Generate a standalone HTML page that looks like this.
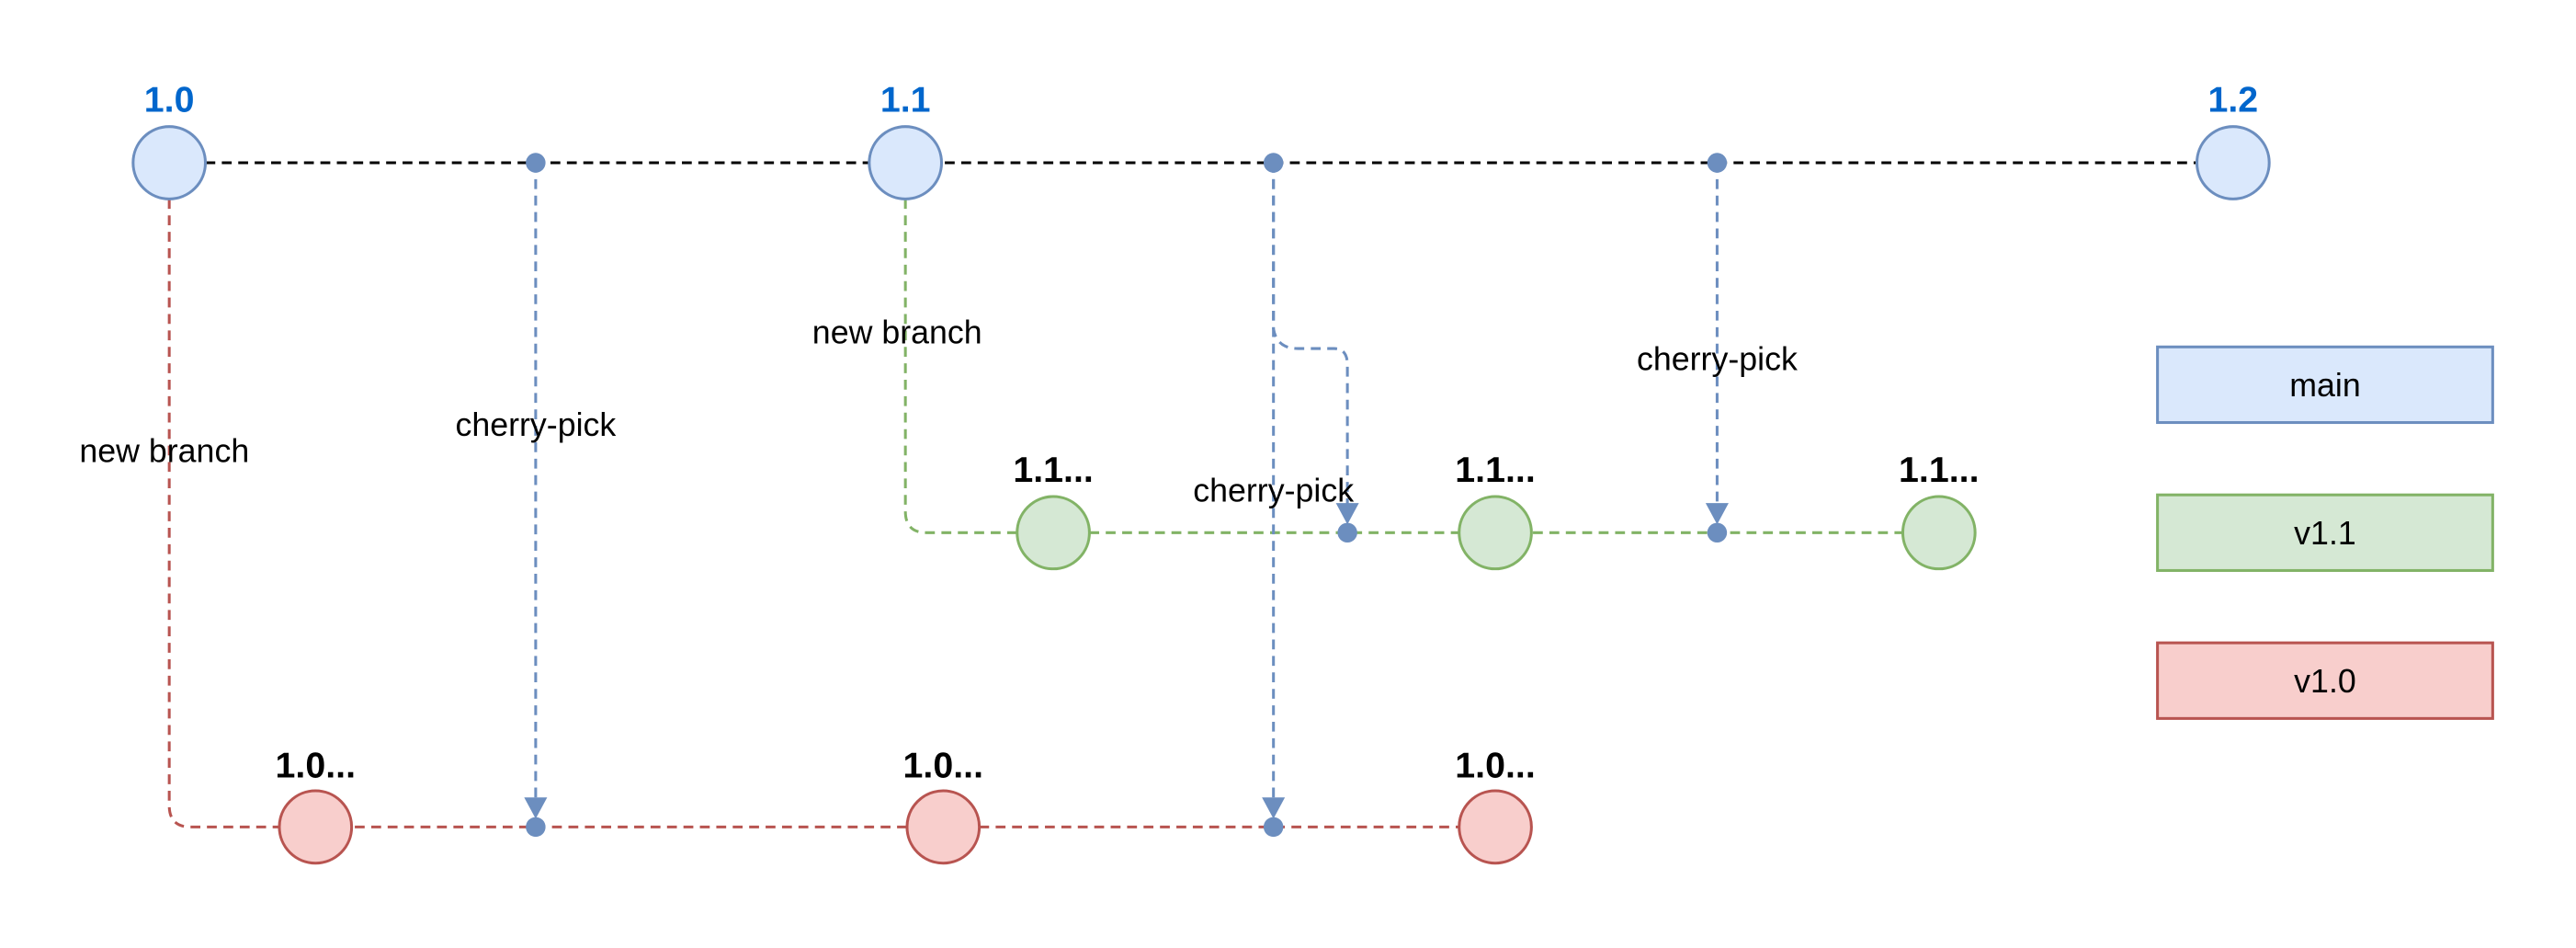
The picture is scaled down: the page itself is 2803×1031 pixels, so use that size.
<!DOCTYPE html>
<html><head><meta charset="utf-8"><style>html,body{margin:0;padding:0;background:#fff}svg{display:block}</style></head>
<body>
<svg width="2803" height="1031" viewBox="0 0 1567.7 576.6" xmlns="http://www.w3.org/2000/svg" font-family="Liberation Sans, Arial, sans-serif">
<g fill="none" stroke-width="1.7" stroke-dasharray="6 4">
<path d="M125 99 H1337" stroke="#000"/>
<path d="M103 121 V490 Q103 503 116 503 H910" stroke="#b85450"/>
<path d="M551 121 V311 Q551 324 564 324 H1180" stroke="#82b366"/>
<g stroke="#6c8ebf">
<path d="M326 99 V486"/>
<path d="M775 99 V486"/>
<path d="M775 99 V200 Q777 212 790 212 H812 Q820 212 820 222 V307"/>
<path d="M1045 99 V307"/>
</g>
</g>
<g fill="#6c8ebf">
<circle cx="326" cy="99" r="6"/><circle cx="775" cy="99" r="6"/><circle cx="1045" cy="99" r="6"/>
<circle cx="326" cy="503" r="6"/><circle cx="775" cy="503" r="6"/>
<circle cx="820" cy="324" r="6"/><circle cx="1045" cy="324" r="6"/>
<path d="M319 485 H333 L326 498 Z"/><path d="M768 485 H782 L775 498 Z"/>
<path d="M813 306 H827 L820 319 Z"/><path d="M1038 306 H1052 L1045 319 Z"/>
</g>
<g stroke-width="1.7">
<g fill="#dae8fc" stroke="#6c8ebf"><circle cx="103" cy="99" r="22"/><circle cx="551" cy="99" r="22"/><circle cx="1359" cy="99" r="22"/></g>
<g fill="#d5e8d4" stroke="#82b366"><circle cx="641" cy="324" r="22"/><circle cx="910" cy="324" r="22"/><circle cx="1180" cy="324" r="22"/></g>
<g fill="#f8cecc" stroke="#b85450"><circle cx="192" cy="503" r="22"/><circle cx="574" cy="503" r="22"/><circle cx="910" cy="503" r="22"/></g>
<rect x="1313" y="211" width="204" height="46" fill="#dae8fc" stroke="#6c8ebf"/>
<rect x="1313" y="301" width="204" height="46" fill="#d5e8d4" stroke="#82b366"/>
<rect x="1313" y="391" width="204" height="46" fill="#f8cecc" stroke="#b85450"/>
</g>
<g font-weight="bold" font-size="22" text-anchor="middle">
<g fill="#0066cc"><text x="103" y="68">1.0</text><text x="551" y="68">1.1</text><text x="1359" y="68">1.2</text></g>
<g fill="#000"><text x="641" y="293">1.1...</text><text x="910" y="293">1.1...</text><text x="1180" y="293">1.1...</text>
<text x="192" y="473">1.0...</text><text x="574" y="473">1.0...</text><text x="910" y="473">1.0...</text></g>
</g>
<g font-size="20" text-anchor="middle" fill="#000">
<text x="100" y="281">new branch</text>
<text x="326" y="265">cherry-pick</text>
<text x="546" y="209">new branch</text>
<text x="775" y="305">cherry-pick</text>
<text x="1045" y="225">cherry-pick</text>
<text x="1415" y="241">main</text>
<text x="1415" y="331">v1.1</text>
<text x="1415" y="421">v1.0</text>
</g>
</svg>
</body></html>
